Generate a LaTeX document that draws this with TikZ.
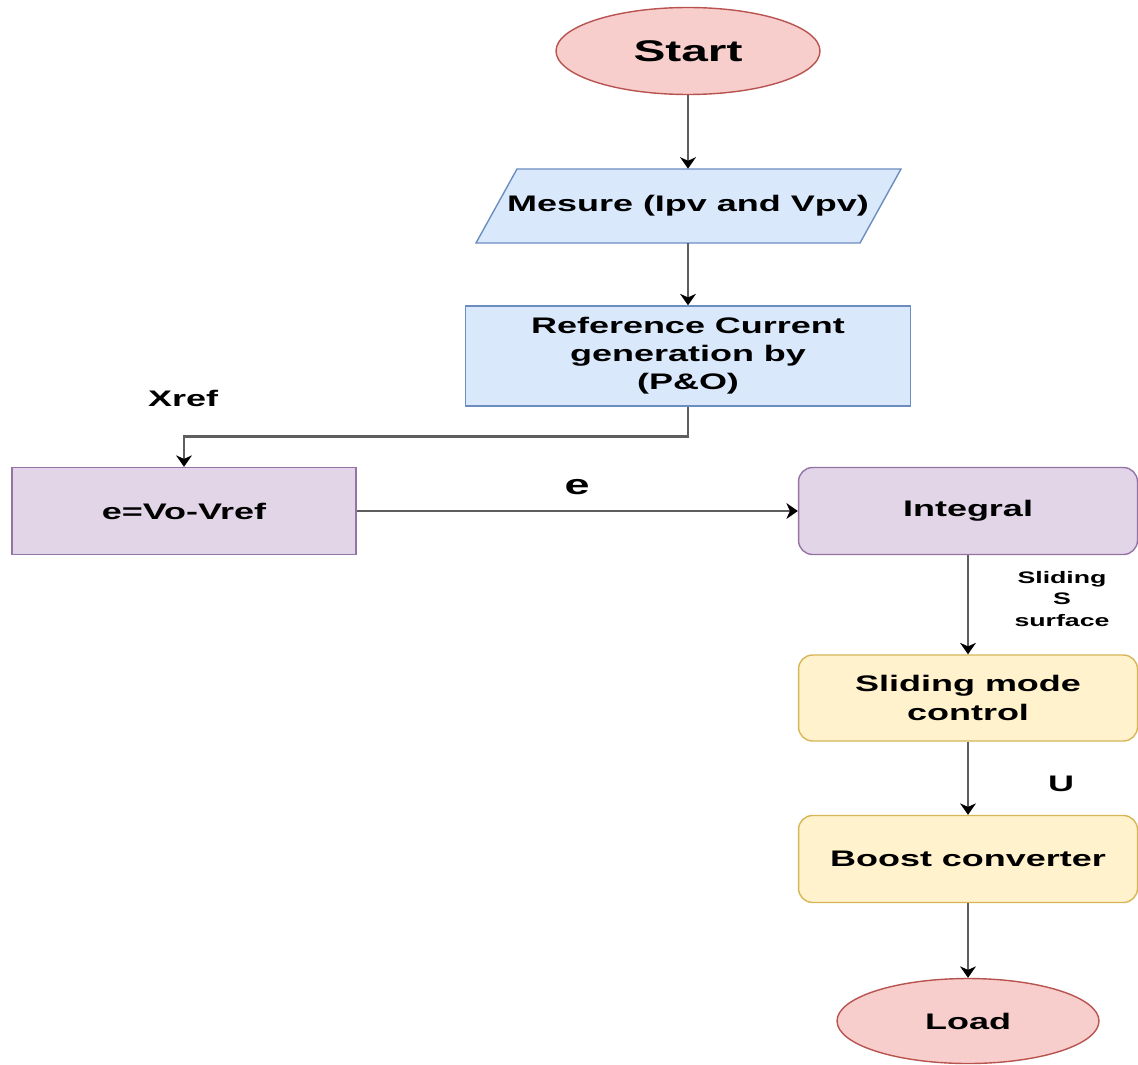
\documentclass[tikz,border=0pt]{standalone}
\usepackage{fontspec}
\setmainfont[FakeStretch=1.6]{Liberation Sans}
\usepackage{tikz}
\usetikzlibrary{positioning,calc,shapes,shapes.geometric,arrows.meta}
\definecolor{redfill}{HTML}{F8CECC}
\definecolor{redline}{HTML}{B85450}
\definecolor{bluefill}{HTML}{DAE8FC}
\definecolor{blueline}{HTML}{6C8EBF}
\definecolor{purplefill}{HTML}{E1D5E7}
\definecolor{purpleline}{HTML}{9673A6}
\definecolor{yellowfill}{HTML}{FFF2CC}
\definecolor{yellowline}{HTML}{D6B656}
\definecolor{linkgray}{HTML}{5E5E5E}
\tikzset{
	terminal/.style={draw=redline, fill=redfill, ellipse, line width=0.8pt, inner sep=0pt},
	procbox/.style={draw=blueline, fill=bluefill, rectangle, line width=0.8pt, inner sep=0pt, align=center},
	errbox/.style={draw=purpleline, fill=purplefill, rectangle, line width=0.8pt, inner sep=0pt, align=center},
	ctrlbox/.style={rounded corners=8pt, line width=0.8pt, inner sep=0pt, align=center},
	link/.style={draw=linkgray, line width=1.4pt, -{Stealth[length=6.5pt,width=9pt,inset=2pt,color=black]}},
	tag/.style={font=\bfseries\fontsize{12.8}{15}\selectfont, inner sep=1pt}
}
\newcommand{\flowedge}[2]{
	% plain straight connector
	\path [link] (#1) -- (#2);
}

\begin{document}
\begin{tikzpicture}[x=0.02cm, y=-0.02cm, font=\bfseries\fontsize{12.8}{16}\selectfont]
		\useasboundingbox (0,0) rectangle (1138,1064);
		
		\node [terminal, minimum width=5.28cm, minimum height=1.74cm, font=\bfseries\fontsize{17}{19}\selectfont] (start) at (688,51) {Start};
		
		% input block, parallelogram drawn by hand
		\node [minimum width=7.68cm, minimum height=1.48cm, inner sep=0pt] (mes) at (688,206) {};
		\path [draw=blueline, fill=bluefill, line width=0.8pt] (517,169) -- (901,169) -- (860,243) -- (476,243) -- cycle;
		\node (mestext) at (mes) {Mesure (Ipv and Vpv)};
		
		\node [procbox, minimum width=8.9cm, minimum height=2.0cm] (ref) at (688,356) {Reference Current\\generation by\\(P\&O)};
		\node [errbox, minimum width=6.88cm, minimum height=1.74cm] (ebox) at (184,511) {e=Vo-Vref};
		\node [ctrlbox, draw=purpleline, fill=purplefill, minimum width=6.78cm, minimum height=1.74cm] (integ) at (968,511) {Integral};
		\node [ctrlbox, draw=yellowline, fill=yellowfill, minimum width=6.78cm, minimum height=1.72cm] (smc) at (968,698) {Sliding mode\\control};
		\node [ctrlbox, draw=yellowline, fill=yellowfill, minimum width=6.78cm, minimum height=1.74cm] (boost) at (968,859) {Boost converter};
		\node [terminal, minimum width=5.24cm, minimum height=1.70cm] (load) at (968,1021) {Load};
		
		\node [tag] (xref) at (183,398) {Xref};
		\node [tag, font=\bfseries\fontsize{16}{18}\selectfont] (elabel) at (577,487) {e};
		\node [tag, align=center, font=\bfseries\fontsize{9.5}{12}\selectfont] (surf) at (1062,599) {Sliding\\S\\surface};
		\node [tag] (ulabel) at (1061,784) {U};
		
		\flowedge{start}{mes}
		\flowedge{mes}{ref}
		\path [link] (ref.south) -- ++(0,30) -| (ebox.north);
		\flowedge{ebox}{integ}
		\flowedge{integ}{smc}
		\flowedge{smc}{boost}
		\flowedge{boost}{load}
\end{tikzpicture}
\end{document}
